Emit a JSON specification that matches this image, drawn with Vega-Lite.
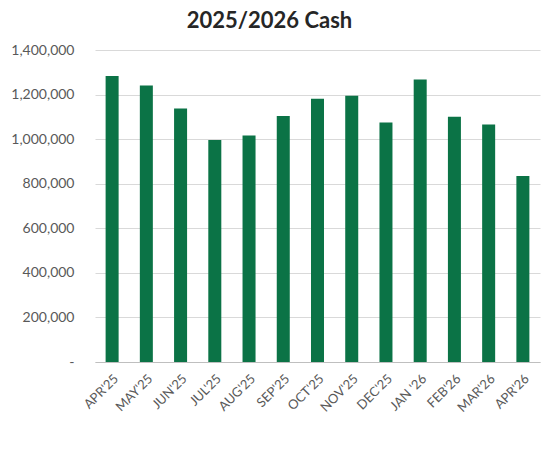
{
  "$schema": "https://vega.github.io/schema/vega-lite/v6.json",
  "width": 445,
  "height": 312,
  "autosize": {"type": "none"},
  "padding": {"left": 95, "top": 50, "right": 7, "bottom": 90},
  "background": "white",
  "title": {
    "text": "2025/2026 Cash",
    "fontSize": 22,
    "font": "Lato",
    "fontWeight": "bold",
    "color": "#262626",
    "anchor": "middle",
    "dx": -48,
    "offset": 10
  },
  "data": {
    "values": [
      {"month": "APR'25", "cash": 1283000},
      {"month": "MAY'25", "cash": 1241000},
      {"month": "JUN'25", "cash": 1138000},
      {"month": "JUL'25", "cash": 996000},
      {"month": "AUG'25", "cash": 1016000},
      {"month": "SEP'25", "cash": 1104000},
      {"month": "OCT'25", "cash": 1181000},
      {"month": "NOV'25", "cash": 1195000},
      {"month": "DEC'25", "cash": 1075000},
      {"month": "JAN '26", "cash": 1268000},
      {"month": "FEB'26", "cash": 1101000},
      {"month": "MAR'26", "cash": 1066000},
      {"month": "APR'26", "cash": 835000}
    ]
  },
  "mark": {"type": "bar", "color": "#0B7346"},
  "encoding": {
    "x": {
      "field": "month",
      "type": "nominal",
      "sort": null,
      "title": null,
      "scale": {"paddingInner": 0.62, "paddingOuter": 0.31},
      "axis": {
        "labelAngle": -45,
        "labelFontSize": 13,
        "labelFont": "Lato",
        "labelColor": "#595959",
        "ticks": false,
        "domainColor": "#bfbfbf",
        "labelPadding": 10
      }
    },
    "y": {
      "field": "cash",
      "type": "quantitative",
      "title": null,
      "scale": {"domain": [0, 1400000], "nice": false},
      "axis": {
        "values": [0, 200000, 400000, 600000, 800000, 1000000, 1200000, 1400000],
        "labelExpr": "datum.value == 0 ? '-' : format(datum.value, ',')",
        "labelFontSize": 14,
        "labelFont": "Lato",
        "labelColor": "#595959",
        "ticks": false,
        "domain": false,
        "gridColor": "#d9d9d9",
        "labelPadding": 21
      }
    }
  },
  "config": {"view": {"stroke": null}}
}
